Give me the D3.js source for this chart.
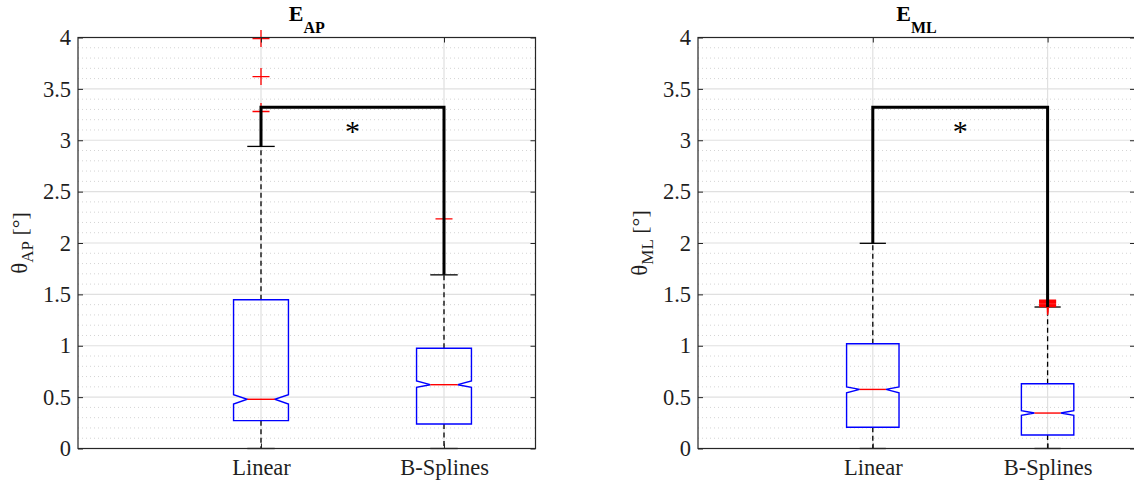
<!DOCTYPE html>
<html>
<head>
<meta charset="utf-8">
<script src="https://cdn.jsdelivr.net/npm/d3@7"></script>
<style>
  html, body { margin: 0; padding: 0; background: #fff; }
  svg { display: block; }
</style>
</head>
<body>
<svg id="chart" width="1134" height="482"></svg>
<script>
// ---------------- data ----------------
const categories = ["Linear", "B-Splines"];
const yTicks = [0, 0.5, 1, 1.5, 2, 2.5, 3, 3.5, 4];
const yTickLabels = ["0", "0.5", "1", "1.5", "2", "2.5", "3", "3.5", "4"];
const minorTicks = [0.1,0.2,0.3,0.4,0.6,0.7,0.8,0.9,1.1,1.2,1.3,1.4,1.6,1.7,1.8,1.9,2.1,2.2,2.3,2.4,2.6,2.7,2.8,2.9,3.1,3.2,3.3,3.4,3.6,3.7,3.8,3.9];

// E_AP panel
const apQ1 = [0.271, 0.238];
const apMedian = [0.479, 0.621];
const apQ3 = [1.447, 0.975];
const apNotchLo = [0.433, 0.596];
const apNotchHi = [0.524, 0.657];
const apWhiskerLo = [0, 0];
const apWhiskerHi = [2.94, 1.69];
const apOutliersLinear = [3.99, 3.62, 3.28];
const apOutliersBSplines = [2.234];

// E_ML panel
const mlQ1 = [0.207, 0.131];
const mlMedian = [0.575, 0.345];
const mlQ3 = [1.02, 0.63];
const mlNotchLo = [0.543, 0.323];
const mlNotchHi = [0.60, 0.368];
const mlWhiskerLo = [0, 0];
const mlWhiskerHi = [1.997, 1.377];
const mlOutliersLinear = [];
const mlOutliersBSplines = [1.382, 1.39, 1.398, 1.406, 1.414, 1.422, 1.43, 1.438, 1.445];

const bracketLevel = 3.32;

// ---------------- drawing ----------------
const SERIF = '"Liberation Serif", "Times New Roman", "DejaVu Serif", serif';
const svg = d3.select("#chart");

function panel(opts) {
  const { left, width, top, bottom, title, sub, ylab, q1, med, q3, nlo, nhi, wlo, whi, outliers } = opts;
  const g = svg.append("g");
  const x = d3.scaleLinear().domain([0, 2.5]).range([left, left + width]);
  const y = d3.scaleLinear().domain([0, 4]).range([bottom, top]);
  const gridColor = "#e0e0e0";

  // minor grid (dotted)
  g.append("g").selectAll("line").data(minorTicks).join("line")
    .attr("x1", left).attr("x2", left + width)
    .attr("y1", d => y(d)).attr("y2", d => y(d))
    .attr("stroke", "#d4d4d4").attr("stroke-width", 1)
    .attr("stroke-dasharray", "1,3");
  // major grid
  g.append("g").selectAll("line").data(yTicks).join("line")
    .attr("x1", left).attr("x2", left + width)
    .attr("y1", d => y(d)).attr("y2", d => y(d))
    .attr("stroke", gridColor).attr("stroke-width", 1.2);
  g.append("g").selectAll("line").data([1, 2]).join("line")
    .attr("x1", d => x(d)).attr("x2", d => x(d))
    .attr("y1", top).attr("y2", bottom)
    .attr("stroke", gridColor).attr("stroke-width", 1.2);

  const boxW = 0.3;
  categories.forEach((c, i) => {
    const cx = i + 1;
    const xl = x(cx - boxW / 2), xr = x(cx + boxW / 2);
    const w = xr - xl;
    const xil = xl + w / 4, xir = xr - w / 4;
    const capL = x(cx - boxW / 4), capR = x(cx + boxW / 4);
    // whiskers
    g.append("line").attr("x1", x(cx)).attr("x2", x(cx))
      .attr("y1", y(q3[i])).attr("y2", y(whi[i]))
      .attr("stroke", "#000").attr("stroke-width", 1.3).attr("stroke-dasharray", "5,3.5");
    g.append("line").attr("x1", x(cx)).attr("x2", x(cx))
      .attr("y1", y(q1[i])).attr("y2", y(wlo[i]))
      .attr("stroke", "#000").attr("stroke-width", 1.3).attr("stroke-dasharray", "5,3.5");
    // caps
    [whi[i], wlo[i]].forEach(v => {
      g.append("line").attr("x1", capL).attr("x2", capR)
        .attr("y1", y(v)).attr("y2", y(v))
        .attr("stroke", "#000").attr("stroke-width", 1.3);
    });
    // notched box
    const pts = [
      [xl, y(q1[i])], [xl, y(nlo[i])], [xil, y(med[i])], [xl, y(nhi[i])], [xl, y(q3[i])],
      [xr, y(q3[i])], [xr, y(nhi[i])], [xir, y(med[i])], [xr, y(nlo[i])], [xr, y(q1[i])]
    ];
    g.append("path").attr("d", d3.line()(pts) + "Z")
      .attr("fill", "none").attr("stroke", "#0000ff").attr("stroke-width", 1.4);
    g.append("line").attr("x1", xil).attr("x2", xir)
      .attr("y1", y(med[i])).attr("y2", y(med[i]))
      .attr("stroke", "#ff0000").attr("stroke-width", 1.4);
    // outliers
    outliers[i].forEach(v => {
      const px = x(cx), py = y(v), s = 8.5;
      g.append("path").attr("d", `M${px - s},${py}H${px + s}M${px},${py - s}V${py + s}`)
        .attr("stroke", "#ff0000").attr("stroke-width", 1.3).attr("fill", "none");
    });
  });

  // significance bracket
  const bx1 = x(1), bx2 = x(2);
  g.append("path")
    .attr("d", d3.line()([[bx1, y(whi[0])], [bx1, y(bracketLevel)], [bx2, y(bracketLevel)], [bx2, y(whi[1])]]))
    .attr("fill", "none").attr("stroke", "#000").attr("stroke-width", 3)
    .attr("stroke-linejoin", "miter").attr("stroke-linecap", "butt");
  g.append("text").attr("x", (bx1 + bx2) / 2).attr("y", y(bracketLevel) + 34)
    .attr("text-anchor", "middle").attr("fill", "#000")
    .style("font-family", SERIF).style("font-size", "30px").text("*");

  // axes
  const axColor = "#1f1f1f";
  const fmt = (d) => yTickLabels[yTicks.indexOf(d)];
  const ax = (gen, tx, ty) => {
    const a = g.append("g").attr("transform", `translate(${tx},${ty})`).call(gen);
    a.select(".domain").remove();
    a.selectAll("line").attr("stroke", "#262626").attr("stroke-width", 1);
    a.selectAll("text").attr("fill", axColor)
      .style("font-size", "22.5px").style("font-family", SERIF);
    return a;
  };
  ax(d3.axisLeft(y).tickValues(yTicks).tickFormat(fmt).tickSize(-5).tickPadding(7), left, 0);
  ax(d3.axisRight(y).tickValues(yTicks).tickFormat("").tickSize(-5), left + width, 0);
  ax(d3.axisBottom(x).tickValues([1, 2]).tickFormat(d => categories[d - 1]).tickSize(-5).tickPadding(11), 0, bottom);
  ax(d3.axisTop(x).tickValues([1, 2]).tickFormat("").tickSize(-5), 0, top);
  g.append("rect").attr("x", left).attr("y", top).attr("width", width).attr("height", bottom - top)
    .attr("fill", "none").attr("stroke", "#262626").attr("stroke-width", 1.2);

  // title
  const t = g.append("text").attr("x", left + width / 2).attr("y", 21)
    .attr("text-anchor", "middle").attr("fill", "#000")
    .style("font-family", SERIF).style("font-weight", "bold");
  t.append("tspan").style("font-size", "22px").text(title);
  t.append("tspan").style("font-size", "16px").attr("dy", 12).text(sub);

  // y label
  const yl = g.append("text")
    .attr("transform", `translate(${left - 51},${(top + bottom) / 2}) rotate(-90)`)
    .attr("text-anchor", "middle").attr("fill", axColor)
    .style("font-family", SERIF);
  yl.append("tspan").style("font-size", "23px").text("θ");
  yl.append("tspan").style("font-size", "17px").attr("dy", 6).text(ylab);
  yl.append("tspan").style("font-size", "22px").attr("dy", -6).text(" [°]");
}

panel({ left: 78, width: 457.5, top: 37.5, bottom: 448.5, title: "E", sub: "AP", ylab: "AP",
  q1: apQ1, med: apMedian, q3: apQ3, nlo: apNotchLo, nhi: apNotchHi, wlo: apWhiskerLo, whi: apWhiskerHi,
  outliers: [apOutliersLinear, apOutliersBSplines] });
panel({ left: 698, width: 437, top: 37.5, bottom: 448.5, title: "E", sub: "ML", ylab: "ML",
  q1: mlQ1, med: mlMedian, q3: mlQ3, nlo: mlNotchLo, nhi: mlNotchHi, wlo: mlWhiskerLo, whi: mlWhiskerHi,
  outliers: [mlOutliersLinear, mlOutliersBSplines] });
</script>
</body>
</html>
